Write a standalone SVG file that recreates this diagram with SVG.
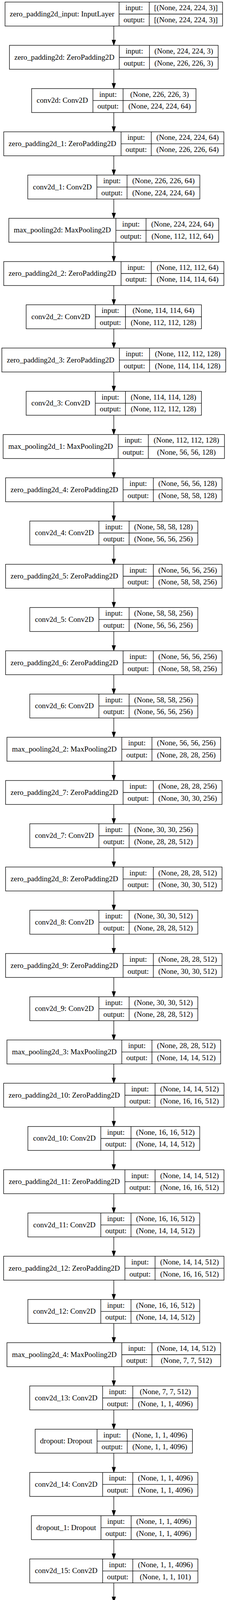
<svg xmlns="http://www.w3.org/2000/svg" width="584" height="4279" viewBox="0 0 584 4279">
<style>
.node rect{fill:#fff;stroke:#000;stroke-width:1.33}
.node path{fill:none;stroke:#000;stroke-width:1.33}
.node text{font-family:"Liberation Serif","Times New Roman",serif;font-size:19.2px;text-anchor:middle;fill:#000}
.edge{stroke:#000;stroke-width:1.33;marker-end:url(#arrow)}
</style>
<defs>
<marker id="arrow" markerUnits="userSpaceOnUse" orient="auto" refX="0" refY="0" markerWidth="16" markerHeight="12" overflow="visible">
<path d="M0,-4.4 L12.6,0 L0,4.4 Z" fill="#000" stroke="#000" stroke-width="1.33"/>
</marker>
</defs>
<rect x="0" y="0" width="584" height="4279" fill="#fff"/>
<g id="connectors">
<line class="edge" x1="291.5" y1="66.66" x2="291.5" y2="102.71"/>
<line class="edge" x1="291.5" y1="177.37" x2="291.5" y2="213.42"/>
<line class="edge" x1="291.5" y1="288.08" x2="291.5" y2="324.13"/>
<line class="edge" x1="291.5" y1="398.79" x2="291.5" y2="434.84"/>
<line class="edge" x1="291.5" y1="509.50" x2="291.5" y2="545.55"/>
<line class="edge" x1="291.5" y1="620.21" x2="291.5" y2="656.26"/>
<line class="edge" x1="291.5" y1="730.92" x2="291.5" y2="766.97"/>
<line class="edge" x1="291.5" y1="841.63" x2="291.5" y2="877.68"/>
<line class="edge" x1="291.5" y1="952.34" x2="291.5" y2="988.39"/>
<line class="edge" x1="291.5" y1="1063.05" x2="291.5" y2="1099.10"/>
<line class="edge" x1="291.5" y1="1173.76" x2="291.5" y2="1209.81"/>
<line class="edge" x1="291.5" y1="1284.47" x2="291.5" y2="1320.52"/>
<line class="edge" x1="291.5" y1="1395.18" x2="291.5" y2="1431.23"/>
<line class="edge" x1="291.5" y1="1505.89" x2="291.5" y2="1541.94"/>
<line class="edge" x1="291.5" y1="1616.60" x2="291.5" y2="1652.65"/>
<line class="edge" x1="291.5" y1="1727.31" x2="291.5" y2="1763.36"/>
<line class="edge" x1="291.5" y1="1838.02" x2="291.5" y2="1874.07"/>
<line class="edge" x1="291.5" y1="1948.73" x2="291.5" y2="1984.78"/>
<line class="edge" x1="291.5" y1="2059.44" x2="291.5" y2="2095.49"/>
<line class="edge" x1="291.5" y1="2170.15" x2="291.5" y2="2206.20"/>
<line class="edge" x1="291.5" y1="2280.86" x2="291.5" y2="2316.91"/>
<line class="edge" x1="291.5" y1="2391.57" x2="291.5" y2="2427.62"/>
<line class="edge" x1="291.5" y1="2502.28" x2="291.5" y2="2538.33"/>
<line class="edge" x1="291.5" y1="2612.99" x2="291.5" y2="2649.04"/>
<line class="edge" x1="291.5" y1="2723.70" x2="291.5" y2="2759.75"/>
<line class="edge" x1="291.5" y1="2834.41" x2="291.5" y2="2870.46"/>
<line class="edge" x1="291.5" y1="2945.12" x2="291.5" y2="2981.17"/>
<line class="edge" x1="291.5" y1="3055.83" x2="291.5" y2="3091.88"/>
<line class="edge" x1="291.5" y1="3166.54" x2="291.5" y2="3202.59"/>
<line class="edge" x1="291.5" y1="3277.25" x2="291.5" y2="3313.30"/>
<line class="edge" x1="291.5" y1="3387.96" x2="291.5" y2="3424.01"/>
<line class="edge" x1="291.5" y1="3498.67" x2="291.5" y2="3534.72"/>
<line class="edge" x1="291.5" y1="3609.38" x2="291.5" y2="3645.43"/>
<line class="edge" x1="291.5" y1="3720.09" x2="291.5" y2="3756.14"/>
<line class="edge" x1="291.5" y1="3830.80" x2="291.5" y2="3866.85"/>
<line class="edge" x1="291.5" y1="3941.51" x2="291.5" y2="3977.56"/>
<line class="edge" x1="291.5" y1="4052.22" x2="291.5" y2="4088.27"/>
<line class="edge" x1="291.5" y1="4162.93" x2="291.5" y2="4198.98"/>
</g>

<g id="zero_padding2d_input" class="node" transform="translate(0,5.33)">
<rect x="12.9" y="0" width="557.2" height="61.33"/>
<path d="M305,0V61.33M382.3,0V61.33M305,30.67H570.1"/>
<text x="158.95" y="36.6">zero_padding2d_input: InputLayer</text>
<text x="343.65" y="21">input:</text><text x="343.65" y="51.7">output:</text>
<text x="476.2" y="21">[(None, 224, 224, 3)]</text><text x="476.2" y="51.7">[(None, 224, 224, 3)]</text>
</g>

<g id="zero_padding2d" class="node" transform="translate(0,116.04)">
<rect x="24.25" y="0" width="534.5" height="61.33"/>
<path d="M305.45,0V61.33M382.75,0V61.33M305.45,30.67H558.75"/>
<text x="164.85" y="36.6">zero_padding2d: ZeroPadding2D</text>
<text x="344.1" y="21">input:</text><text x="344.1" y="51.7">output:</text>
<text x="470.75" y="21">(None, 224, 224, 3)</text><text x="470.75" y="51.7">(None, 226, 226, 3)</text>
</g>

<g id="conv2d" class="node" transform="translate(0,226.75)">
<rect x="81" y="0" width="421" height="61.33"/>
<path d="M238,0V61.33M315.3,0V61.33M238,30.67H502"/>
<text x="159.5" y="36.6">conv2d: Conv2D</text>
<text x="276.65" y="21">input:</text><text x="276.65" y="51.7">output:</text>
<text x="408.65" y="21">(None, 226, 226, 3)</text><text x="408.65" y="51.7">(None, 224, 224, 64)</text>
</g>

<g id="zero_padding2d_1" class="node" transform="translate(0,337.46)">
<rect x="9.55" y="0" width="563.9" height="61.33"/>
<path d="M310.15,0V61.33M387.45,0V61.33M310.15,30.67H573.45"/>
<text x="159.85" y="36.6">zero_padding2d_1: ZeroPadding2D</text>
<text x="348.8" y="21">input:</text><text x="348.8" y="51.7">output:</text>
<text x="480.45" y="21">(None, 224, 224, 64)</text><text x="480.45" y="51.7">(None, 226, 226, 64)</text>
</g>

<g id="conv2d_1" class="node" transform="translate(0,448.17)">
<rect x="71.15" y="0" width="440.7" height="61.33"/>
<path d="M248.15,0V61.33M325.45,0V61.33M248.15,30.67H511.85"/>
<text x="159.65" y="36.6">conv2d_1: Conv2D</text>
<text x="286.8" y="21">input:</text><text x="286.8" y="51.7">output:</text>
<text x="418.65" y="21">(None, 226, 226, 64)</text><text x="418.65" y="51.7">(None, 224, 224, 64)</text>
</g>

<g id="max_pooling2d" class="node" transform="translate(0,558.88)">
<rect x="22.6" y="0" width="537.8" height="61.33"/>
<path d="M296.8,0V61.33M374.1,0V61.33M296.8,30.67H560.4"/>
<text x="159.7" y="36.6">max_pooling2d: MaxPooling2D</text>
<text x="335.45" y="21">input:</text><text x="335.45" y="51.7">output:</text>
<text x="467.25" y="21">(None, 224, 224, 64)</text><text x="467.25" y="51.7">(None, 112, 112, 64)</text>
</g>

<g id="zero_padding2d_2" class="node" transform="translate(0,669.59)">
<rect x="9.55" y="0" width="563.9" height="61.33"/>
<path d="M310.15,0V61.33M387.45,0V61.33M310.15,30.67H573.45"/>
<text x="159.85" y="36.6">zero_padding2d_2: ZeroPadding2D</text>
<text x="348.8" y="21">input:</text><text x="348.8" y="51.7">output:</text>
<text x="480.45" y="21">(None, 112, 112, 64)</text><text x="480.45" y="51.7">(None, 114, 114, 64)</text>
</g>

<g id="conv2d_2" class="node" transform="translate(0,780.30)">
<rect x="67" y="0" width="449" height="61.33"/>
<path d="M244.1,0V61.33M321.4,0V61.33M244.1,30.67H516"/>
<text x="155.55" y="36.6">conv2d_2: Conv2D</text>
<text x="282.75" y="21">input:</text><text x="282.75" y="51.7">output:</text>
<text x="418.7" y="21">(None, 114, 114, 64)</text><text x="418.7" y="51.7">(None, 112, 112, 128)</text>
</g>

<g id="zero_padding2d_3" class="node" transform="translate(0,891.01)">
<rect x="4.7" y="0" width="573.6" height="61.33"/>
<path d="M305.7,0V61.33M383,0V61.33M305.7,30.67H578.3"/>
<text x="155.2" y="36.6">zero_padding2d_3: ZeroPadding2D</text>
<text x="344.35" y="21">input:</text><text x="344.35" y="51.7">output:</text>
<text x="480.65" y="21">(None, 112, 112, 128)</text><text x="480.65" y="51.7">(None, 114, 114, 128)</text>
</g>

<g id="conv2d_3" class="node" transform="translate(0,1001.72)">
<rect x="67" y="0" width="449" height="61.33"/>
<path d="M244.1,0V61.33M321.4,0V61.33M244.1,30.67H516"/>
<text x="155.55" y="36.6">conv2d_3: Conv2D</text>
<text x="282.75" y="21">input:</text><text x="282.75" y="51.7">output:</text>
<text x="418.7" y="21">(None, 114, 114, 128)</text><text x="418.7" y="51.7">(None, 112, 112, 128)</text>
</g>

<g id="max_pooling2d_1" class="node" transform="translate(0,1112.43)">
<rect x="8.05" y="0" width="566.9" height="61.33"/>
<path d="M302.65,0V61.33M379.95,0V61.33M302.65,30.67H574.95"/>
<text x="155.35" y="36.6">max_pooling2d_1: MaxPooling2D</text>
<text x="341.3" y="21">input:</text><text x="341.3" y="51.7">output:</text>
<text x="477.45" y="21">(None, 112, 112, 128)</text><text x="477.45" y="51.7">(None, 56, 56, 128)</text>
</g>

<g id="zero_padding2d_4" class="node" transform="translate(0,1223.14)">
<rect x="14.35" y="0" width="554.3" height="61.33"/>
<path d="M315.35,0V61.33M392.65,0V61.33M315.35,30.67H568.65"/>
<text x="164.85" y="36.6">zero_padding2d_4: ZeroPadding2D</text>
<text x="354" y="21">input:</text><text x="354" y="51.7">output:</text>
<text x="480.65" y="21">(None, 56, 56, 128)</text><text x="480.65" y="51.7">(None, 58, 58, 128)</text>
</g>

<g id="conv2d_4" class="node" transform="translate(0,1333.85)">
<rect x="76.35" y="0" width="430.3" height="61.33"/>
<path d="M253.35,0V61.33M330.65,0V61.33M253.35,30.67H506.65"/>
<text x="164.85" y="36.6">conv2d_4: Conv2D</text>
<text x="292" y="21">input:</text><text x="292" y="51.7">output:</text>
<text x="418.65" y="21">(None, 58, 58, 128)</text><text x="418.65" y="51.7">(None, 56, 56, 256)</text>
</g>

<g id="zero_padding2d_5" class="node" transform="translate(0,1444.56)">
<rect x="14.35" y="0" width="554.3" height="61.33"/>
<path d="M315.35,0V61.33M392.65,0V61.33M315.35,30.67H568.65"/>
<text x="164.85" y="36.6">zero_padding2d_5: ZeroPadding2D</text>
<text x="354" y="21">input:</text><text x="354" y="51.7">output:</text>
<text x="480.65" y="21">(None, 56, 56, 256)</text><text x="480.65" y="51.7">(None, 58, 58, 256)</text>
</g>

<g id="conv2d_5" class="node" transform="translate(0,1555.27)">
<rect x="76.35" y="0" width="430.3" height="61.33"/>
<path d="M253.35,0V61.33M330.65,0V61.33M253.35,30.67H506.65"/>
<text x="164.85" y="36.6">conv2d_5: Conv2D</text>
<text x="292" y="21">input:</text><text x="292" y="51.7">output:</text>
<text x="418.65" y="21">(None, 58, 58, 256)</text><text x="418.65" y="51.7">(None, 56, 56, 256)</text>
</g>

<g id="zero_padding2d_6" class="node" transform="translate(0,1665.98)">
<rect x="14.35" y="0" width="554.3" height="61.33"/>
<path d="M315.35,0V61.33M392.65,0V61.33M315.35,30.67H568.65"/>
<text x="164.85" y="36.6">zero_padding2d_6: ZeroPadding2D</text>
<text x="354" y="21">input:</text><text x="354" y="51.7">output:</text>
<text x="480.65" y="21">(None, 56, 56, 256)</text><text x="480.65" y="51.7">(None, 58, 58, 256)</text>
</g>

<g id="conv2d_6" class="node" transform="translate(0,1776.69)">
<rect x="76.35" y="0" width="430.3" height="61.33"/>
<path d="M253.35,0V61.33M330.65,0V61.33M253.35,30.67H506.65"/>
<text x="164.85" y="36.6">conv2d_6: Conv2D</text>
<text x="292" y="21">input:</text><text x="292" y="51.7">output:</text>
<text x="418.65" y="21">(None, 58, 58, 256)</text><text x="418.65" y="51.7">(None, 56, 56, 256)</text>
</g>

<g id="max_pooling2d_2" class="node" transform="translate(0,1887.40)">
<rect x="17.75" y="0" width="547.5" height="61.33"/>
<path d="M311.95,0V61.33M389.25,0V61.33M311.95,30.67H565.25"/>
<text x="164.85" y="36.6">max_pooling2d_2: MaxPooling2D</text>
<text x="350.6" y="21">input:</text><text x="350.6" y="51.7">output:</text>
<text x="477.25" y="21">(None, 56, 56, 256)</text><text x="477.25" y="51.7">(None, 28, 28, 256)</text>
</g>

<g id="zero_padding2d_7" class="node" transform="translate(0,1998.11)">
<rect x="14.35" y="0" width="554.3" height="61.33"/>
<path d="M315.35,0V61.33M392.65,0V61.33M315.35,30.67H568.65"/>
<text x="164.85" y="36.6">zero_padding2d_7: ZeroPadding2D</text>
<text x="354" y="21">input:</text><text x="354" y="51.7">output:</text>
<text x="480.65" y="21">(None, 28, 28, 256)</text><text x="480.65" y="51.7">(None, 30, 30, 256)</text>
</g>

<g id="conv2d_7" class="node" transform="translate(0,2108.82)">
<rect x="76.35" y="0" width="430.3" height="61.33"/>
<path d="M253.35,0V61.33M330.65,0V61.33M253.35,30.67H506.65"/>
<text x="164.85" y="36.6">conv2d_7: Conv2D</text>
<text x="292" y="21">input:</text><text x="292" y="51.7">output:</text>
<text x="418.65" y="21">(None, 30, 30, 256)</text><text x="418.65" y="51.7">(None, 28, 28, 512)</text>
</g>

<g id="zero_padding2d_8" class="node" transform="translate(0,2219.53)">
<rect x="14.35" y="0" width="554.3" height="61.33"/>
<path d="M315.35,0V61.33M392.65,0V61.33M315.35,30.67H568.65"/>
<text x="164.85" y="36.6">zero_padding2d_8: ZeroPadding2D</text>
<text x="354" y="21">input:</text><text x="354" y="51.7">output:</text>
<text x="480.65" y="21">(None, 28, 28, 512)</text><text x="480.65" y="51.7">(None, 30, 30, 512)</text>
</g>

<g id="conv2d_8" class="node" transform="translate(0,2330.24)">
<rect x="76.35" y="0" width="430.3" height="61.33"/>
<path d="M253.35,0V61.33M330.65,0V61.33M253.35,30.67H506.65"/>
<text x="164.85" y="36.6">conv2d_8: Conv2D</text>
<text x="292" y="21">input:</text><text x="292" y="51.7">output:</text>
<text x="418.65" y="21">(None, 30, 30, 512)</text><text x="418.65" y="51.7">(None, 28, 28, 512)</text>
</g>

<g id="zero_padding2d_9" class="node" transform="translate(0,2440.95)">
<rect x="14.35" y="0" width="554.3" height="61.33"/>
<path d="M315.35,0V61.33M392.65,0V61.33M315.35,30.67H568.65"/>
<text x="164.85" y="36.6">zero_padding2d_9: ZeroPadding2D</text>
<text x="354" y="21">input:</text><text x="354" y="51.7">output:</text>
<text x="480.65" y="21">(None, 28, 28, 512)</text><text x="480.65" y="51.7">(None, 30, 30, 512)</text>
</g>

<g id="conv2d_9" class="node" transform="translate(0,2551.66)">
<rect x="76.35" y="0" width="430.3" height="61.33"/>
<path d="M253.35,0V61.33M330.65,0V61.33M253.35,30.67H506.65"/>
<text x="164.85" y="36.6">conv2d_9: Conv2D</text>
<text x="292" y="21">input:</text><text x="292" y="51.7">output:</text>
<text x="418.65" y="21">(None, 30, 30, 512)</text><text x="418.65" y="51.7">(None, 28, 28, 512)</text>
</g>

<g id="max_pooling2d_3" class="node" transform="translate(0,2662.37)">
<rect x="17.75" y="0" width="547.5" height="61.33"/>
<path d="M311.95,0V61.33M389.25,0V61.33M311.95,30.67H565.25"/>
<text x="164.85" y="36.6">max_pooling2d_3: MaxPooling2D</text>
<text x="350.6" y="21">input:</text><text x="350.6" y="51.7">output:</text>
<text x="477.25" y="21">(None, 28, 28, 512)</text><text x="477.25" y="51.7">(None, 14, 14, 512)</text>
</g>

<g id="zero_padding2d_10" class="node" transform="translate(0,2773.08)">
<rect x="9.35" y="0" width="564.3" height="61.33"/>
<path d="M319.95,0V61.33M397.25,0V61.33M319.95,30.67H573.65"/>
<text x="164.65" y="36.6">zero_padding2d_10: ZeroPadding2D</text>
<text x="358.6" y="21">input:</text><text x="358.6" y="51.7">output:</text>
<text x="485.45" y="21">(None, 14, 14, 512)</text><text x="485.45" y="51.7">(None, 16, 16, 512)</text>
</g>

<g id="conv2d_10" class="node" transform="translate(0,2883.79)">
<rect x="71.45" y="0" width="440.1" height="61.33"/>
<path d="M258.25,0V61.33M335.55,0V61.33M258.25,30.67H511.55"/>
<text x="164.85" y="36.6">conv2d_10: Conv2D</text>
<text x="296.9" y="21">input:</text><text x="296.9" y="51.7">output:</text>
<text x="423.55" y="21">(None, 16, 16, 512)</text><text x="423.55" y="51.7">(None, 14, 14, 512)</text>
</g>

<g id="zero_padding2d_11" class="node" transform="translate(0,2994.50)">
<rect x="9.35" y="0" width="564.3" height="61.33"/>
<path d="M319.95,0V61.33M397.25,0V61.33M319.95,30.67H573.65"/>
<text x="164.65" y="36.6">zero_padding2d_11: ZeroPadding2D</text>
<text x="358.6" y="21">input:</text><text x="358.6" y="51.7">output:</text>
<text x="485.45" y="21">(None, 14, 14, 512)</text><text x="485.45" y="51.7">(None, 16, 16, 512)</text>
</g>

<g id="conv2d_11" class="node" transform="translate(0,3105.21)">
<rect x="71.45" y="0" width="440.1" height="61.33"/>
<path d="M258.25,0V61.33M335.55,0V61.33M258.25,30.67H511.55"/>
<text x="164.85" y="36.6">conv2d_11: Conv2D</text>
<text x="296.9" y="21">input:</text><text x="296.9" y="51.7">output:</text>
<text x="423.55" y="21">(None, 16, 16, 512)</text><text x="423.55" y="51.7">(None, 14, 14, 512)</text>
</g>

<g id="zero_padding2d_12" class="node" transform="translate(0,3215.92)">
<rect x="9.35" y="0" width="564.3" height="61.33"/>
<path d="M319.95,0V61.33M397.25,0V61.33M319.95,30.67H573.65"/>
<text x="164.65" y="36.6">zero_padding2d_12: ZeroPadding2D</text>
<text x="358.6" y="21">input:</text><text x="358.6" y="51.7">output:</text>
<text x="485.45" y="21">(None, 14, 14, 512)</text><text x="485.45" y="51.7">(None, 16, 16, 512)</text>
</g>

<g id="conv2d_12" class="node" transform="translate(0,3326.63)">
<rect x="71.45" y="0" width="440.1" height="61.33"/>
<path d="M258.25,0V61.33M335.55,0V61.33M258.25,30.67H511.55"/>
<text x="164.85" y="36.6">conv2d_12: Conv2D</text>
<text x="296.9" y="21">input:</text><text x="296.9" y="51.7">output:</text>
<text x="423.55" y="21">(None, 16, 16, 512)</text><text x="423.55" y="51.7">(None, 14, 14, 512)</text>
</g>

<g id="max_pooling2d_4" class="node" transform="translate(0,3437.34)">
<rect x="17.75" y="0" width="547.5" height="61.33"/>
<path d="M311.95,0V61.33M389.25,0V61.33M311.95,30.67H565.25"/>
<text x="164.85" y="36.6">max_pooling2d_4: MaxPooling2D</text>
<text x="350.6" y="21">input:</text><text x="350.6" y="51.7">output:</text>
<text x="477.25" y="21">(None, 14, 14, 512)</text><text x="477.25" y="51.7">(None, 7, 7, 512)</text>
</g>

<g id="conv2d_13" class="node" transform="translate(0,3548.05)">
<rect x="76.15" y="0" width="430.7" height="61.33"/>
<path d="M262.85,0V61.33M340.15,0V61.33M262.85,30.67H506.85"/>
<text x="169.5" y="36.6">conv2d_13: Conv2D</text>
<text x="301.5" y="21">input:</text><text x="301.5" y="51.7">output:</text>
<text x="423.5" y="21">(None, 7, 7, 512)</text><text x="423.5" y="51.7">(None, 1, 1, 4096)</text>
</g>

<g id="dropout" class="node" transform="translate(0,3658.76)">
<rect x="90.1" y="0" width="402.8" height="61.33"/>
<path d="M248.6,0V61.33M325.9,0V61.33M248.6,30.67H492.9"/>
<text x="169.35" y="36.6">dropout: Dropout</text>
<text x="287.25" y="21">input:</text><text x="287.25" y="51.7">output:</text>
<text x="409.4" y="21">(None, 1, 1, 4096)</text><text x="409.4" y="51.7">(None, 1, 1, 4096)</text>
</g>

<g id="conv2d_14" class="node" transform="translate(0,3769.47)">
<rect x="76.15" y="0" width="430.7" height="61.33"/>
<path d="M262.85,0V61.33M340.15,0V61.33M262.85,30.67H506.85"/>
<text x="169.5" y="36.6">conv2d_14: Conv2D</text>
<text x="301.5" y="21">input:</text><text x="301.5" y="51.7">output:</text>
<text x="423.5" y="21">(None, 1, 1, 4096)</text><text x="423.5" y="51.7">(None, 1, 1, 4096)</text>
</g>

<g id="dropout_1" class="node" transform="translate(0,3880.18)">
<rect x="80.4" y="0" width="422.2" height="61.33"/>
<path d="M258.6,0V61.33M335.9,0V61.33M258.6,30.67H502.6"/>
<text x="169.5" y="36.6">dropout_1: Dropout</text>
<text x="297.25" y="21">input:</text><text x="297.25" y="51.7">output:</text>
<text x="419.25" y="21">(None, 1, 1, 4096)</text><text x="419.25" y="51.7">(None, 1, 1, 4096)</text>
</g>

<g id="conv2d_15" class="node" transform="translate(0,3990.89)">
<rect x="76.15" y="0" width="430.7" height="61.33"/>
<path d="M262.85,0V61.33M340.15,0V61.33M262.85,30.67H506.85"/>
<text x="169.5" y="36.6">conv2d_15: Conv2D</text>
<text x="301.5" y="21">input:</text><text x="301.5" y="51.7">output:</text>
<text x="423.5" y="21">(None, 1, 1, 4096)</text><text x="423.5" y="51.7">(None, 1, 1, 101)</text>
</g>

<g id="flatten" class="node" transform="translate(0,4101.60)">
<rect x="109.6" y="0" width="363.8" height="61.33"/>
<path d="M240.2,0V61.33M317.5,0V61.33M240.2,30.67H473.4"/>
<text x="174.9" y="36.6">flatten: Flatten</text>
<text x="278.85" y="21">input:</text><text x="278.85" y="51.7">output:</text>
<text x="395.45" y="21">(None, 1, 1, 101)</text><text x="395.45" y="51.7">(None, 101)</text>
</g>

<g id="activation" class="node" transform="translate(0,4212.31)">
<rect x="102.35" y="0" width="378.3" height="61.33"/>
<path d="M287.65,0V61.33M364.95,0V61.33M287.65,30.67H480.65"/>
<text x="195" y="36.6">activation: Activation</text>
<text x="326.3" y="21">input:</text><text x="326.3" y="51.7">output:</text>
<text x="422.8" y="21">(None, 101)</text><text x="422.8" y="51.7">(None, 101)</text>
</g>
</svg>
